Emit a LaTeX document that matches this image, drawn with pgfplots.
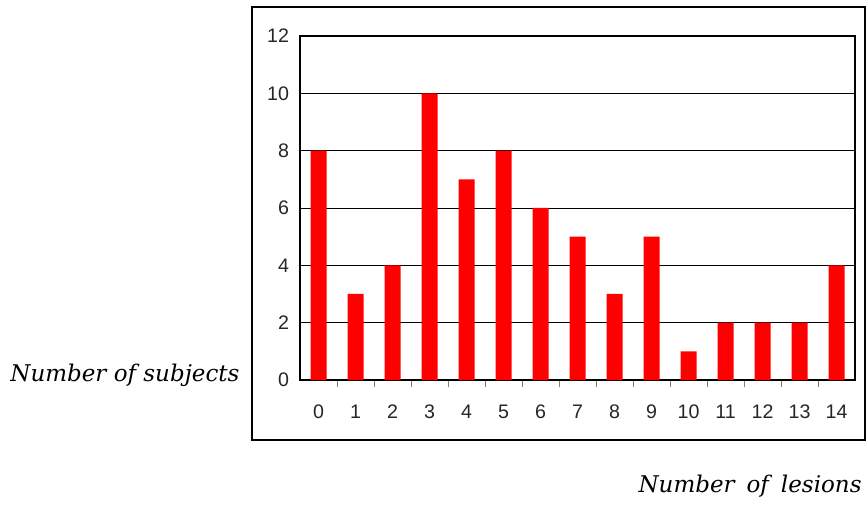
\documentclass[border=0pt]{standalone}
\usepackage{fontspec}
\setmainfont{Liberation Sans}
\newfontfamily\labfont{DejaVu Serif}
\usepackage{pgfplots}
\pgfplotsset{compat=1.18}
\begin{document}
\begin{tikzpicture}
\useasboundingbox (0pt,0pt) rectangle (433.5pt,252pt);
\draw[line width=0.8pt] (126pt,32pt) rectangle (432.5pt,248.5pt);
\begin{axis}[
  at={(150pt,62pt)}, anchor=south west,
  scale only axis, width=277.5pt, height=172pt,
  xmin=-0.5, xmax=14.5, ymin=0, ymax=12,
  xtick={0,...,14}, ytick={0,2,...,12},
  minor xtick={0.5,1.5,...,13.5},
  major tick length=0pt, minor tick length=3.5pt,
  tick align=inside,
  xtick pos=bottom, ytick pos=left,
  ymajorgrids, grid style={black, line width=0.4pt},
  axis line style={line width=0.7pt},
  minor tick style={line width=0.5pt},
  /pgf/number format/assume math mode=true,
  tick label style={font=\fontsize{9.8}{11}\selectfont, text=black!85},
  xticklabel style={yshift=-9pt},
  yticklabel style={xshift=-2pt},
  ybar, bar width=8pt, bar shift=0pt,
  clip=false,
]
\addplot[fill=red, draw=none] coordinates {
(0,8) (1,3) (2,4) (3,10) (4,7) (5,8) (6,6) (7,5) (8,3) (9,5) (10,1) (11,2) (12,2) (13,2) (14,4)};
\end{axis}
\node[anchor=west, inner sep=0pt] at (5pt,64.5pt) {\labfont\itshape\fontsize{11.5}{13}\selectfont Number of subjects};
\node[anchor=east, inner sep=0pt] at (431pt,9pt) {\labfont\itshape\fontsize{11.5}{13}\selectfont Number\hspace{6pt}of\hspace{6pt}lesions};
\end{tikzpicture}
\end{document}
